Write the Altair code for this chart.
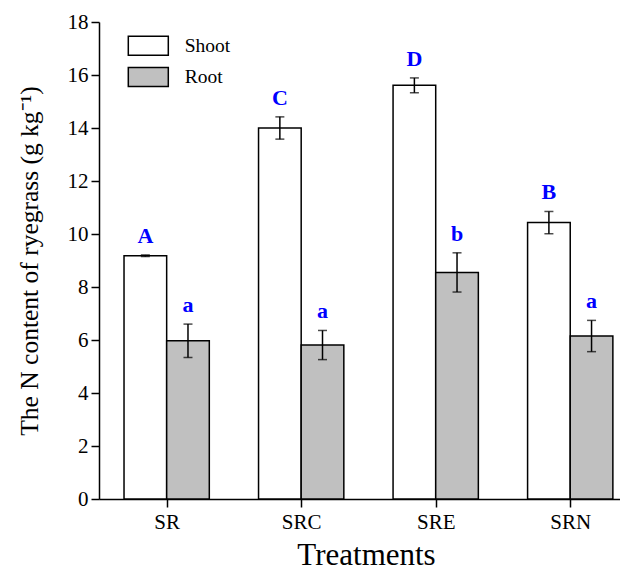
import altair as alt
import pandas as pd

treatments = ["SR", "SRC", "SRE", "SRN"]
shoot_vals = [9.18, 14.0, 15.61, 10.43]
shoot_err = [0.03, 0.42, 0.28, 0.42]
shoot_letters = ["A", "C", "D", "B"]
root_vals = [5.97, 5.81, 8.55, 6.15]
root_err = [0.63, 0.55, 0.74, 0.59]
root_letters = ["a", "a", "b", "a"]

rows = []
for i, t in enumerate(treatments):
    rows.append(dict(treatment=t, idx=i + 1, part="Shoot", side=-1,
                     value=shoot_vals[i], err=shoot_err[i], letter=shoot_letters[i]))
    rows.append(dict(treatment=t, idx=i + 1, part="Root", side=0,
                     value=root_vals[i], err=root_err[i], letter=root_letters[i]))
df = pd.DataFrame(rows)

FONT = "Liberation Serif"
YTITLE = "The N content of ryegrass (g kg\u207b\u00b9)"
BW = 0.317   # bar width in category units
base = alt.Chart(df).transform_calculate(
    x0=f"datum.idx + datum.side*{BW}",
    x1=f"datum.idx + (datum.side+1)*{BW}",
    xc=f"datum.idx + (datum.side+0.5)*{BW}",
    lo="datum.value - datum.err",
    hi="datum.value + datum.err",
    zero="0",
)

label_expr = "datum.value==1?'SR':datum.value==2?'SRC':datum.value==3?'SRE':datum.value==4?'SRN':''"

xscale = alt.Scale(domain=[0.497, 4.37], nice=False, zero=False)
yscale = alt.Scale(domain=[0, 18], nice=False)

yaxis = alt.Axis(values=list(range(0, 19, 2)), title=YTITLE,
                 grid=False, tickSize=8, labelPadding=3, titlePadding=25,
                 labelFontSize=21, titleFontSize=25.5, titleFontWeight="normal")

bars = base.mark_bar(stroke="black", strokeWidth=1.5).encode(
    x=alt.X("x0:Q", scale=xscale,
            axis=alt.Axis(values=[1, 2, 3, 4], labelExpr=label_expr, title="Treatments",
                          grid=False, tickSize=8, labelPadding=4,
                          titleBaseline="alphabetic", titleY=65, titleX=267,
                          labelFontSize=21, titleFontSize=31, titleFontWeight="normal")),
    x2="x1:Q",
    y=alt.Y("value:Q", scale=yscale, axis=yaxis, title=YTITLE),
    y2="zero:Q",
    fill=alt.Fill("part:N", scale=alt.Scale(domain=["Shoot", "Root"], range=["white", "#c0c0c0"]),
                  legend=alt.Legend(title=None, orient="none", legendX=38.3, legendY=12.7,
                                    symbolType="M-2,-0.95H2V0.95H-2Z", symbolSize=400,
                                    symbolStrokeColor="black", symbolStrokeWidth=1.5,
                                    labelFontSize=19.5, labelFont=FONT, labelOffset=25.4,
                                    labelColor="black",
                                    rowPadding=5.3, padding=0)),
)

errs = base.mark_errorbar(ticks={"size": 9, "color": "black", "strokeWidth": 1.5},
                          color="black", thickness=1.5).encode(
    x="xc:Q",
    y=alt.Y("lo:Q", scale=yscale, title=YTITLE),
    y2="hi:Q",
)

letters = base.mark_text(font=FONT, fontSize=22, fontWeight="bold", color="#0000ff",
                         baseline="bottom", dy=-7).encode(
    x="xc:Q",
    y=alt.Y("hi:Q", title=YTITLE),
    text="letter:N",
)

chart = alt.layer(bars, errs, letters).properties(
    width=521, height=477,
    background="white",
    autosize=alt.AutoSizeParams(type="none"),
    padding={"left": 91, "top": 14, "right": 0, "bottom": 67},
).configure_view(stroke=None).configure_axis(
    labelFont=FONT, titleFont=FONT, labelColor="black", titleColor="black",
    domainColor="black", tickColor="black", domainWidth=1.5, tickWidth=1.5,
)

chart.save("out.html", embed_options={"renderer": "svg", "actions": False})
